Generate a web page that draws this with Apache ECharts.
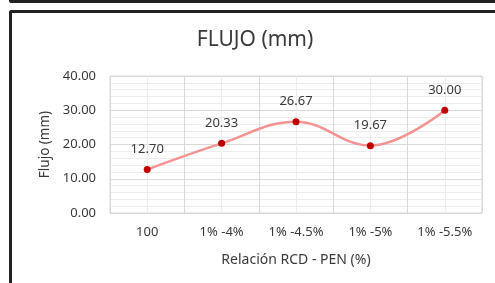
<!DOCTYPE html>
<html>
<head>
<meta charset="utf-8">
<script src="https://cdn.jsdelivr.net/npm/echarts@6/dist/echarts.min.js"></script>
<style>
  html, body {
    margin: 0;
    padding: 0;
    background: #fff;
  }
  .prev-box {
    position: absolute;
    left: 9px;
    top: -20px;
    width: 520px;
    height: 20px;
    border-left: 3px solid #222;
    border-bottom: 3px solid #222;
    border-bottom-left-radius: 3px;
  }
  .chart-box {
    position: absolute;
    left: 9px;
    top: 10px;
    width: 520px;
    height: 300px;
    border-left: 3px solid #222;
    border-top: 3px solid #222;
    border-top-left-radius: 3px;
  }
  #chart {
    position: absolute;
    left: 0;
    top: 0;
    width: 495px;
    height: 283px;
  }
</style>
</head>
<body>
<div class="prev-box"></div>
<div class="chart-box"></div>
<div id="chart"></div>
<script>
// datos del gráfico
const categories = ['100', '1% -4%', '1% -4.5%', '1% -5%', '1% -5.5%']
const flujo = [12.70, 20.33, 26.67, 19.67, 30.00]
const titleText = 'FLUJO (mm)'
const yName = 'Flujo (mm)'
const xName = 'Relación RCD - PEN (%)'

const font = '"Noto Sans", "DejaVu Sans", sans-serif'
const textColor = '#3a3a3a'
const chart = echarts.init(document.getElementById('chart'))

const option = {
  animation: false,
  textStyle: { fontFamily: font },
  graphic: [{
    type: 'text',
    x: 255,
    y: 40,
    style: {
      text: titleText,
      font: '21px ' + font,
      fill: textColor,
      textAlign: 'center',
      textVerticalAlign: 'middle'
    }
  }],
  grid: {
    left: 110,
    right: 13,
    top: 76,
    bottom: 70,
    show: true,
    borderColor: '#d9d9d9',
    borderWidth: 1
  },
  xAxis: [{
    type: 'category',
    data: categories,
    boundaryGap: true,
    name: xName,
    nameLocation: 'middle',
    nameGap: 40,
    nameTextStyle: { color: textColor, fontSize: 14, fontFamily: font },
    axisLine: { show: false },
    axisTick: { show: false },
    axisLabel: { color: textColor, fontSize: 13, margin: 13, fontFamily: font },
    splitLine: { show: false }
  }, {
    // eje auxiliar solo para las líneas verticales (límites y centros)
    type: 'value',
    min: 0,
    max: 10,
    interval: 1,
    show: true,
    axisLine: { show: false },
    axisTick: { show: false },
    axisLabel: { show: false },
    splitLine: { show: true, lineStyle: { color: ['#d9d9d9', '#ededed'], width: 1 } }
  }],
  yAxis: {
    type: 'value',
    min: 0,
    max: 40,
    interval: 10,
    name: yName,
    nameLocation: 'middle',
    nameGap: 58,
    nameTextStyle: { color: textColor, fontSize: 13.5, fontFamily: font },
    axisLine: { show: false },
    axisTick: { show: false },
    axisLabel: {
      color: textColor,
      fontSize: 13,
      margin: 14,
      fontFamily: font,
      formatter: v => v.toFixed(2)
    },
    splitLine: { lineStyle: { color: '#d9d9d9', width: 1 } },
    minorTick: { show: false, splitNumber: 5 },
    minorSplitLine: { show: true, lineStyle: { color: '#ededed', width: 1 } }
  },
  series: [{
    type: 'line',
    data: flujo,
    xAxisIndex: 0,
    smooth: 0.4,
    symbol: 'circle',
    symbolSize: 7,
    lineStyle: { color: '#f39393', width: 2.5 },
    itemStyle: { color: '#c00000' },
    label: {
      show: true,
      position: 'top',
      distance: 10,
      color: textColor,
      fontSize: 13,
      fontFamily: font,
      formatter: p => p.value.toFixed(2)
    }
  }]
}

chart.setOption(option)
</script>
</body>
</html>
